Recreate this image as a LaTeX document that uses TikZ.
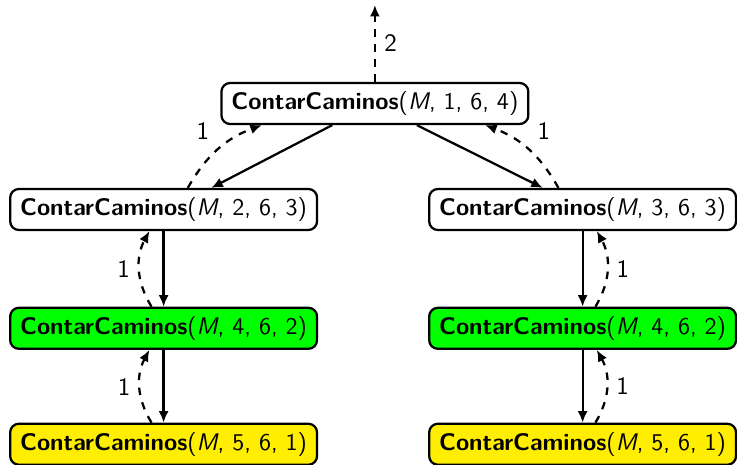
\documentclass[tikz,border=0pt]{standalone}
\usetikzlibrary{arrows.meta}
\definecolor{amarillo}{RGB}{255,238,0}
\tikzset{
  llamada/.style={draw, line width=0.9pt, rounded corners=3.5pt, inner xsep=4pt, inner ysep=3.4pt, font=\sffamily\fontsize{9.6}{11.5}\selectfont},
  baja/.style={line width=0.9pt, -{Latex[length=4.6pt,width=4pt]}},
  sube/.style={line width=0.9pt, dashed, -{Latex[length=4.6pt,width=4pt]}},
  etiqueta/.style={font=\sffamily\fontsize{10}{12}\selectfont}
}
\newcommand{\cc}[1]{\textbf{ContarCaminos}(\textit{M}, #1)}
\begin{document}
\begin{tikzpicture}
    \useasboundingbox (-5.27,1.455) rectangle (5.09,-5.07);
    % llamadas
    \node[llamada] (raiz) at (0,0) {\cc{1, 6, 4}};
    \node[llamada] (izq) at (-2.97,-1.49) {\cc{2, 6, 3}};
    \node[llamada] (der) at (2.92,-1.49) {\cc{3, 6, 3}};
    \node[llamada, fill=green] (izqb) at (-2.97,-3.16) {\cc{4, 6, 2}};
    \node[llamada, fill=green] (derb) at (2.92,-3.16) {\cc{4, 6, 2}};
    \node[llamada, fill=amarillo] (izqc) at (-2.97,-4.79) {\cc{5, 6, 1}};
    \node[llamada, fill=amarillo] (derc) at (2.92,-4.79) {\cc{5, 6, 1}};
    \coordinate (arriba) at (0,1.385);

    % llamadas recursivas
    \draw[baja] ([xshift=-0.6cm]raiz.south) -- ([xshift=0.67cm]izq.north);
    \draw[baja] ([xshift=0.59cm]raiz.south) -- ([xshift=-0.56cm]der.north);
    \draw[baja] (izq) -- (izqb);
    \draw[baja] (izqb) -- (izqc);
    \draw[baja] (der) -- (derb);
    \draw[baja] (derb) -- (derc);

    % valores devueltos
    \draw[sube] (raiz.north) -- node[etiqueta, right] {2} (arriba);
    \draw[sube] ([xshift=0.34cm]izq.north) to[bend left=20] node[etiqueta, above left] {1} ([xshift=-1.59cm]raiz.south);
    \draw[sube] ([xshift=-0.34cm]der.north) to[bend right=20] node[etiqueta, above right] {1} ([xshift=1.55cm]raiz.south);
    \draw[sube] ([xshift=-0.17cm]izqb.north) to[bend left=30] node[etiqueta, left] {1} ([xshift=-0.2cm]izq.south);
    \draw[sube] ([xshift=-0.17cm]izqc.north) to[bend left=30] node[etiqueta, left] {1} ([xshift=-0.2cm]izqb.south);
    \draw[sube] ([xshift=0.18cm]derb.north) to[bend right=30] node[etiqueta, right] {1} ([xshift=0.2cm]der.south);
    \draw[sube] ([xshift=0.18cm]derc.north) to[bend right=30] node[etiqueta, right] {1} ([xshift=0.2cm]derb.south);
\end{tikzpicture}
\end{document}
